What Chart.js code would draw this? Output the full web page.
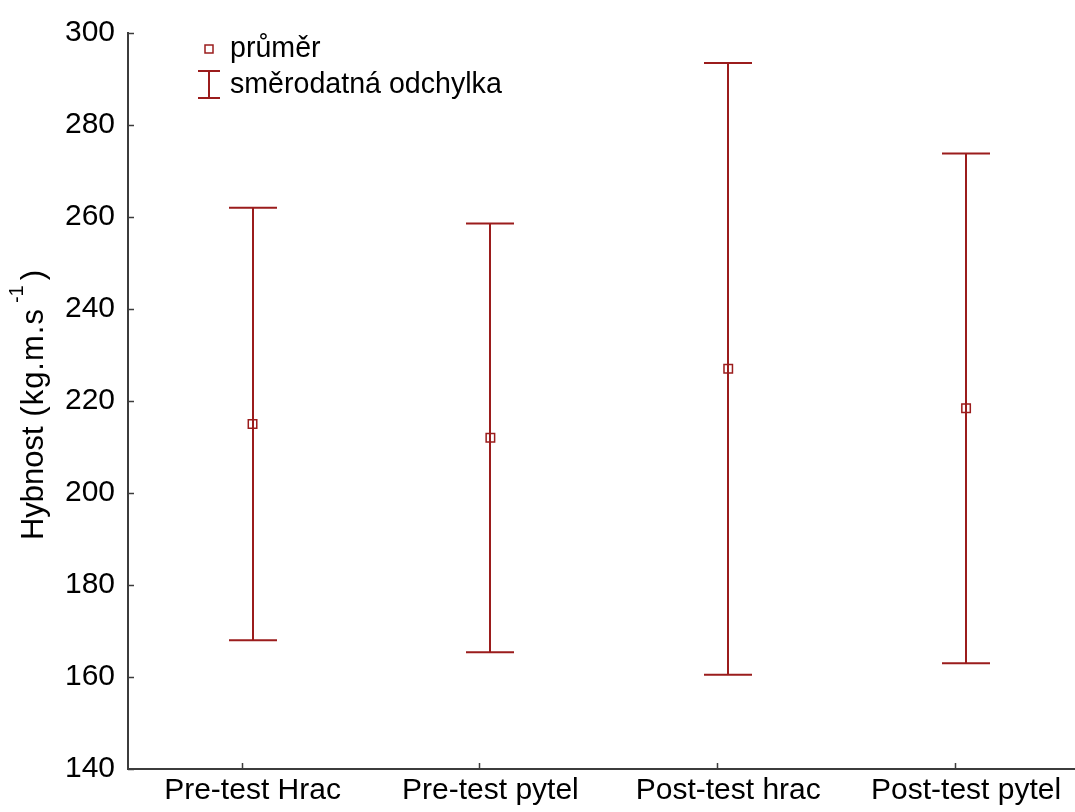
<!DOCTYPE html>
<html lang="cs">
<head>
<meta charset="utf-8">
<title>Hybnost</title>
<script src="https://cdn.jsdelivr.net/npm/chart.js@4/dist/chart.umd.min.js"></script>
<style>
  html, body { margin: 0; padding: 0; background: #fff; overflow: hidden; }
  #c { display: block; }
</style>
</head>
<body>
<canvas id="c" width="1075" height="812"></canvas>
<script>
// Groups along the x axis
const categories = ['Pre-test Hrac', 'Pre-test pytel', 'Post-test hrac', 'Post-test pytel'];
// Mean momentum per group (kg.m.s-1)
const means = [215.0, 212.0, 227.0, 218.4];
// Standard deviation per group
const sds = [47.0, 46.6, 66.5, 55.4];
// Y axis tick values
const yTicks = [140, 160, 180, 200, 220, 240, 260, 280, 300];

const legendLabels = ['průměr', 'směrodatná odchylka'];
const axisTitle = { word: 'Hybnost', unit: ' (kg.m.s', sup: '-1', tail: ')' };

const RED = '#9b1c1c';
const AXIS = '#3c3c3c';
const FONT = '"Liberation Sans", Arial, Helvetica, sans-serif';

// Vertical whiskers (mean ± SD) with caps, drawn under the mean markers
const errorBars = {
  id: 'errorBars',
  beforeDatasetsDraw(chart) {
    const { ctx, scales: { x, y } } = chart;
    ctx.save();
    ctx.strokeStyle = RED;
    ctx.lineWidth = 2;
    const half = 24;
    means.forEach((m, i) => {
      const px = Math.round(x.getPixelForValue(i));
      const top = y.getPixelForValue(m + sds[i]);
      const bot = y.getPixelForValue(m - sds[i]);
      ctx.beginPath();
      ctx.moveTo(px, top);
      ctx.lineTo(px, bot);
      ctx.moveTo(px - half, top);
      ctx.lineTo(px + half, top);
      ctx.moveTo(px - half, bot);
      ctx.lineTo(px + half, bot);
      ctx.stroke();
    });
    ctx.restore();
  }
};

// Inward tick marks, rotated y title with superscript, and the in-plot legend
const decorations = {
  id: 'decorations',
  afterDraw(chart) {
    const { ctx, chartArea: area, scales: { x, y } } = chart;
    ctx.save();

    // tick marks pointing into the plot
    ctx.strokeStyle = AXIS;
    ctx.lineWidth = 1.5;
    ctx.beginPath();
    y.ticks.forEach(t => {
      const py = Math.round(y.getPixelForValue(t.value)) + 0.5;
      ctx.moveTo(area.left, py);
      ctx.lineTo(area.left + 6, py);
    });
    x.ticks.forEach(t => {
      const px = Math.round(x.getPixelForValue(t.value)) - 10.5;
      ctx.moveTo(px, area.bottom);
      ctx.lineTo(px, area.bottom - 6);
    });
    ctx.stroke();

    // y axis title: word, unit, superscript exponent, closing bracket
    const cy = (area.top + area.bottom) / 2 + 4;
    ctx.fillStyle = '#000';
    ctx.textBaseline = 'alphabetic';
    ctx.textAlign = 'left';
    const big = '31px ' + FONT, small = '20px ' + FONT;
    const spacing = 1, gap = 5;
    ctx.font = big;
    const wWord = ctx.measureText(axisTitle.word).width;
    const unitChars = [...axisTitle.unit];
    const wUnit = unitChars.reduce((s, ch) => s + ctx.measureText(ch).width + spacing, 0);
    const wTail = ctx.measureText(axisTitle.tail).width;
    ctx.font = small;
    const wSup = ctx.measureText(axisTitle.sup).width;
    const total = wWord + wUnit + gap + wSup + gap + wTail;
    ctx.translate(43, cy);
    ctx.rotate(-Math.PI / 2);
    let sx = -total / 2;
    ctx.font = big;
    ctx.fillText(axisTitle.word, sx, 0);
    sx += wWord;
    unitChars.forEach(ch => {
      ctx.fillText(ch, sx, 0);
      sx += ctx.measureText(ch).width + spacing;
    });
    sx += gap;
    ctx.font = small;
    ctx.fillText(axisTitle.sup, sx, -20);
    sx += wSup + gap;
    ctx.font = big;
    ctx.fillText(axisTitle.tail, sx, 0);
    ctx.setTransform(1, 0, 0, 1, 0, 0);

    // legend
    const lx = area.left + 81;
    ctx.strokeStyle = RED;
    ctx.lineWidth = 1.5;
    ctx.strokeRect(lx - 4, area.top + 12, 8, 8);
    ctx.lineWidth = 2;
    ctx.beginPath();
    const iTop = area.top + 38, iBot = area.top + 65;
    ctx.moveTo(lx, iTop); ctx.lineTo(lx, iBot);
    ctx.moveTo(lx - 11, iTop); ctx.lineTo(lx + 11, iTop);
    ctx.moveTo(lx - 11, iBot); ctx.lineTo(lx + 11, iBot);
    ctx.stroke();
    ctx.fillStyle = '#000';
    ctx.font = '28.6px ' + FONT;
    ctx.fillText(legendLabels[0], area.left + 102, area.top + 24);
    ctx.fillText(legendLabels[1], area.left + 102, area.top + 60);

    ctx.restore();
  }
};

new Chart(document.getElementById('c'), {
  type: 'scatter',
  data: {
    datasets: [{
      label: legendLabels[0],
      data: means.map((m, i) => ({ x: i, y: m })),
      pointStyle: 'rect',
      pointRadius: 6,
      pointHoverRadius: 6,
      borderWidth: 1.5,
      borderColor: RED,
      backgroundColor: 'rgba(0,0,0,0)',
      showLine: false
    }]
  },
  options: {
    responsive: false,
    animation: false,
    events: [],
    layout: { autoPadding: false, padding: { top: 33, right: 0, bottom: 0, left: 0 } },
    plugins: {
      legend: { display: false },
      tooltip: { enabled: false },
      title: { display: false }
    },
    scales: {
      x: {
        type: 'linear',
        min: -0.5236,
        max: 3.458,
        afterBuildTicks(scale) {
          scale.ticks = categories.map((_, i) => ({ value: i }));
        },
        afterFit(scale) {
          scale.height = 43;
          scale.paddingLeft = 0;
          scale.paddingRight = 0;
        },
        grid: { display: true, drawOnChartArea: false, drawTicks: false },
        border: { display: true, color: AXIS, width: 2 },
        ticks: {
          autoSkip: false,
          maxRotation: 0,
          padding: 4,
          color: '#000',
          font: { family: FONT, size: 30 },
          callback: v => categories[v]
        }
      },
      y: {
        min: 140,
        max: 300,
        afterBuildTicks(scale) {
          scale.ticks = yTicks.map(v => ({ value: v }));
        },
        afterFit(scale) { scale.width = 128; },
        grid: { display: true, drawOnChartArea: false, drawTicks: false },
        border: { display: true, color: AXIS, width: 2 },
        ticks: {
          padding: 13,
          color: '#000',
          font: { family: FONT, size: 30 }
        }
      }
    }
  },
  plugins: [errorBars, decorations]
});
</script>
</body>
</html>
